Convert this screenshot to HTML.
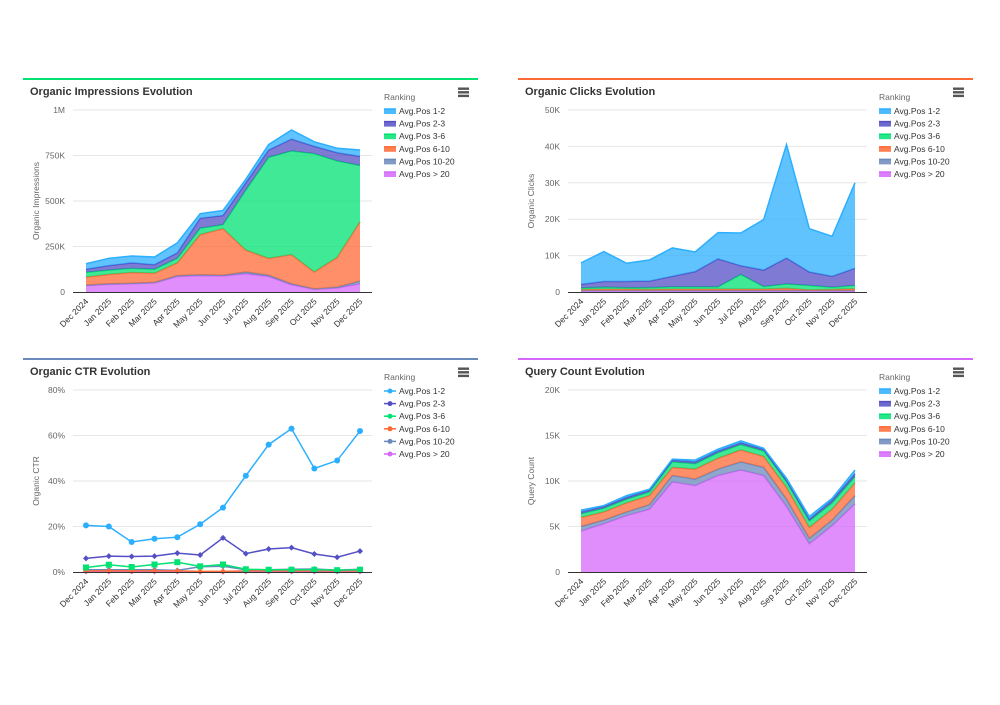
<!DOCTYPE html>
<html><head><meta charset="utf-8">
<style>
body{margin:0;background:#fff;width:1000px;height:700px;overflow:hidden;font-family:"Liberation Sans",sans-serif;}
svg text{font-family:"Liberation Sans",sans-serif;}
</style></head>
<body>
<svg id="root" width="1000" height="700" xmlns="http://www.w3.org/2000/svg"></svg>
<script>
const months=["Dec 2024","Jan 2025","Feb 2025","Mar 2025","Apr 2025","May 2025","Jun 2025","Jul 2025","Aug 2025","Sep 2025","Oct 2025","Nov 2025","Dec 2025"];
const seriesNames=["Avg.Pos 1-2","Avg.Pos 2-3","Avg.Pos 3-6","Avg.Pos 6-10","Avg.Pos 10-20","Avg.Pos > 20"];
// Impressions (per series, stacked)
const impP12=[30,40,38,42,55,25,28,20,30,50,25,25,35];
const impP23=[17,25,30,25,30,55,50,40,40,65,40,45,50];
const impP36=[26,23,23,22,25,35,22,330,555,570,650,530,310];
const impP610=[44,52,59,50,70,220,256,120,93,160,93,163,325];
const impP1020=[3,3,3,3,5,5,4,10,7,5,2,5,15];
const impP20=[35,42,45,50,85,90,88,100,85,40,15,22,45];
const impTicks=["0","250K","500K","750K","1M"];
// Clicks
const clkP12=[5900,8200,5000,5800,7800,5400,7200,9000,13900,31200,11900,11000,23500];
const clkP23=[1000,1600,1700,1800,2900,4200,7700,2400,4500,7100,3700,3000,4700];
const clkP36=[400,500,400,500,600,600,600,4000,700,1200,1200,600,900];
const clkP610=[300,400,400,300,400,400,400,400,400,600,200,300,500];
const clkP1020=[100,100,100,100,100,100,100,100,100,100,100,100,100];
const clkP20=[300,300,300,300,300,300,300,300,300,300,300,300,300];
const clkTicks=["0","10K","20K","30K","40K","50K"];
// CTR (%)
const ctrP12=[20.5,20,13.2,14.6,15.3,21,28.3,42.3,56,63,45.5,49,62];
const ctrP23=[6,7,6.8,7,8.3,7.5,15,8.1,10.1,10.7,7.9,6.5,9.2];
const ctrP36=[2,3.2,2.2,3.3,4.3,2.5,3.3,1.2,1,1,1,0.8,1];
const ctrP610=[0.5,0.5,0.5,0.5,0.5,0.3,0.3,0.5,0.5,0.5,0.5,0.5,0.5];
const ctrP1020=[1,1,1,1,0.7,2.3,2.5,1,1,1.2,1.3,0.8,1.2];
const ctrP20=[0.2,0.2,0.2,0.2,0.2,0.1,0.1,0.2,0.2,0.2,0.2,0.2,0.2];
const ctrTicks=["0%","20%","40%","60%","80%"];
// Query count (thousands)
const qcP12=[0.2,0.1,0.2,0.1,0.1,0.2,0.2,0.2,0.1,0.2,0.3,0.2,0.4];
const qcP23=[0.2,0.2,0.2,0.2,0.2,0.2,0.2,0.2,0.2,0.2,0.2,0.3,0.3];
const qcP36=[0.4,0.4,0.4,0.4,0.6,0.6,0.6,0.6,0.6,0.6,0.7,0.7,0.7];
const qcP610=[1.0,0.9,1.0,1.0,0.9,1.1,1.2,1.3,1.2,1.3,1.2,1.2,1.4];
const qcP1020=[0.5,0.4,0.4,0.5,0.7,0.7,0.7,0.9,0.9,0.8,0.6,0.6,0.9];
const qcP20=[4.5,5.3,6.2,6.9,9.9,9.5,10.6,11.2,10.6,7.2,3.1,5.1,7.5];
const qcTicks=["0","5K","10K","15K","20K"];

const colors=["#2caffe","#544fc5","#00e272","#fe6a35","#6b8abc","#d568fb"];
const NS="http://www.w3.org/2000/svg";
const root=document.getElementById('root');
function mk(tag,attrs,parent,txt){const e=document.createElementNS(NS,tag);for(const k in attrs)e.setAttribute(k,attrs[k]);if(txt!=null)e.textContent=txt;parent.appendChild(e);return e;}

function chart(ox,oy,title,yTitle,border,series,ticks,maxV,type,nameKey){
  const g=mk('g',{transform:`translate(${ox},${oy})`},root);
  
  
  const bl=mk('rect',{x:0,y:-1,width:455,height:2,fill:border},g);
  
  const t=mk('text',{x:7,y:16,'font-size':11,'font-weight':'bold',fill:'#333'},g,title);
  
  const menu=mk('g',{},g);
  
  for(let i=0;i<3;i++)mk('rect',{x:435,y:8.5+i*3.6,width:11,height:2.4,fill:'#555'},menu);
  const x0=50,x1=349,px0=63,px1=337,yT=31,yB=213;
  const xs=i=>px0+(px1-px0)*i/(months.length-1);
  const ys=v=>yB-(yB-yT)*v/maxV;
  ticks.forEach((lab,i)=>{const v=maxV*i/(ticks.length-1);const y=ys(v);
    if(i>0){const gl=mk('line',{x1:x0,x2:x1,y1:y,y2:y,stroke:'#e6e6e6','stroke-width':1},g);}
    const tl=mk('text',{x:x0-8,y:y+3,'font-size':8.5,fill:'#666','text-anchor':'end'},g,lab);
    });
  const yt=mk('text',{x:0,y:0,'font-size':8.5,fill:'#666','text-anchor':'middle',transform:`translate(16,${(yT+yB)/2}) rotate(-90)`},g,yTitle);
  
  if(type==='area'){
    const n=months.length;let base=new Array(n).fill(0);
    const layers=[];
    for(let s=series.length-1;s>=0;s--){const top=base.map((b,i)=>b+series[s][i]);layers.push({s,bot:base.slice(),top});base=top;}
    layers.forEach(L=>{
      let d='M'+L.top.map((v,i)=>xs(i)+','+ys(v)).join('L');
      for(let i=n-1;i>=0;i--)d+='L'+xs(i)+','+ys(L.bot[i]);
      const a=mk('path',{d:d+'Z',fill:colors[L.s],'fill-opacity':0.75},g);
      
      const ln=mk('path',{d:'M'+L.top.map((v,i)=>xs(i)+','+ys(v)).join('L'),fill:'none',stroke:colors[L.s],'stroke-width':1.5},g);
      
    });
  } else {
    for(let s=series.length-1;s>=0;s--){
      const ln=mk('path',{d:'M'+series[s].map((v,i)=>xs(i)+','+ys(v)).join('L'),fill:'none',stroke:colors[s],'stroke-width':1.5},g);
      
      series[s].forEach((v,i)=>{
        const c=s===0?mk('circle',{cx:xs(i),cy:ys(v),r:3,fill:colors[s]},g):
          s===2?mk('rect',{x:xs(i)-3,y:ys(v)-3,width:6,height:6,fill:colors[s]},g):
          mk('path',{d:`M${xs(i)},${ys(v)-3}L${xs(i)+3},${ys(v)}L${xs(i)},${ys(v)+3}L${xs(i)-3},${ys(v)}Z`,fill:colors[s]},g);
        
      });
    }
  }
  const ax=mk('line',{x1:x0,x2:x1,y1:yB+0.5,y2:yB+0.5,stroke:'#333','stroke-width':1},g);
  
  months.forEach((m,i)=>{const tl=mk('text',{x:0,y:0,'font-size':8.5,fill:'#333','text-anchor':'end',transform:`translate(${xs(i)+3},${yB+10}) rotate(-45)`},g,m);
    });
  const rk=mk('text',{x:361,y:21,'font-size':8.5,fill:'#666'},g,'Ranking');
  
  seriesNames.forEach((nm,i)=>{const ly=32+i*12.6;
    const le=mk('g',{},g);
    if(type==='area'){mk('rect',{x:361,y:ly-2,width:12,height:5,fill:colors[i],'fill-opacity':0.85},le);mk('line',{x1:361,x2:373,y1:ly-2,y2:ly-2,stroke:colors[i],'stroke-width':1.5},le);}
    else{mk('line',{x1:361,x2:373,y1:ly,y2:ly,stroke:colors[i],'stroke-width':1.5},le);mk('circle',{cx:367,cy:ly,r:2.5,fill:colors[i]},le);}
    mk('text',{x:376,y:ly+3,'font-size':8.5,fill:'#333'},le,nm);});
}
chart(23,79,'Organic Impressions Evolution','Organic Impressions','#00e272',[impP12,impP23,impP36,impP610,impP1020,impP20],impTicks,1000,'area','impressions');
chart(518,79,'Organic Clicks Evolution','Organic Clicks','#fe6a35',[clkP12,clkP23,clkP36,clkP610,clkP1020,clkP20],clkTicks,50000,'area','clicks');
chart(23,359,'Organic CTR Evolution','Organic CTR','#6b8abc',[ctrP12,ctrP23,ctrP36,ctrP610,ctrP1020,ctrP20],ctrTicks,80,'line','ctr');
chart(518,359,'Query Count Evolution','Query Count','#d568fb',[qcP12,qcP23,qcP36,qcP610,qcP1020,qcP20],qcTicks,20,'area','query-count');
</script>
</body></html>
